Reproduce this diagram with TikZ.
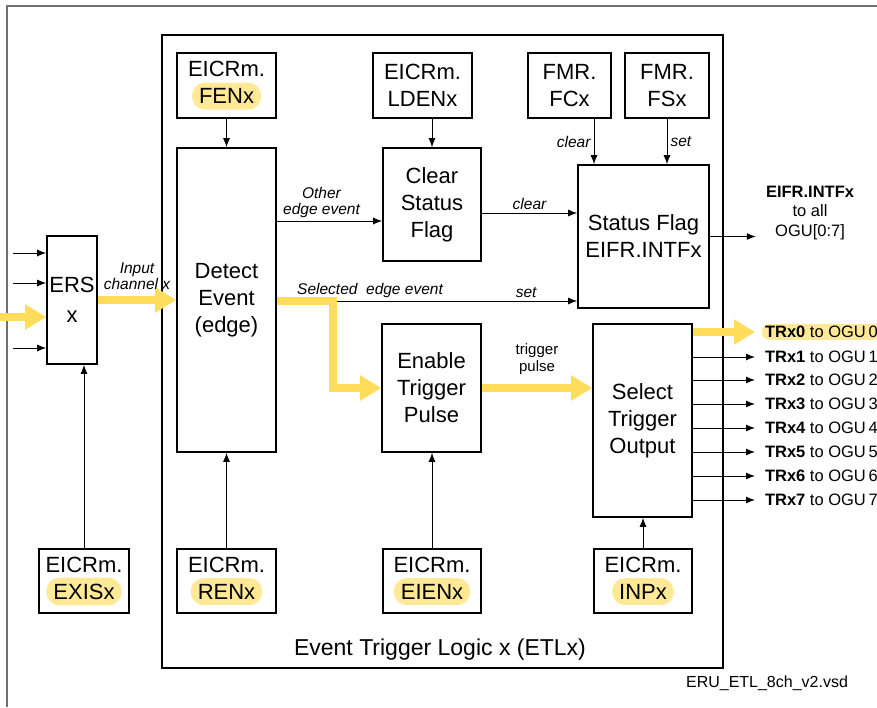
\documentclass[tikz,border=0pt]{standalone}
\usepackage{fontspec}
\setmainfont{Liberation Sans}
\usepackage{xcolor}
\usetikzlibrary{positioning,arrows.meta}
\definecolor{ybus}{RGB}{255,221,90}
\definecolor{yhl}{RGB}{255,232,150}
\definecolor{frm}{RGB}{112,112,112}
\newcommand{\hl}[1]{\tikz[baseline]\node[anchor=base,draw=none,fill=yhl,minimum width=0pt,minimum height=0pt,rounded corners=13pt,inner xsep=7pt,inner ysep=6pt]{#1};}

\begin{document}
\begin{tikzpicture}[x=1pt,y=-1pt,%
  font=\fontsize{22}{27}\selectfont,%
  blk/.style={draw,line width=1.6pt,align=center,inner sep=0pt},%
  arr/.style={-{Latex[length=9pt,width=7pt]},line width=1pt},%
  yarr/.style={draw=ybus,line width=8pt,-{Triangle[length=21pt,width=24pt]}},%
  lbl/.style={font=\fontsize{15.5}{16}\selectfont\itshape,inner sep=1pt},%
  trout/.style={font=\fontsize{16.5}{19.5}\selectfont,anchor=west,inner xsep=3pt,inner ysep=2pt,outer sep=7pt}%
  ]
  \useasboundingbox (0,0) rectangle (877,707);
  \draw[frm,line width=2pt] (7,707) -- (7,6) -- (877,6);
%
  \node (etl) [draw,line width=1.6pt,minimum width=561,minimum height=633] at (442.5,351.5) {};
  \node (etltxt) [font=\fontsize{23}{27}\selectfont] at (440,650) {Event Trigger Logic x (ETLx)};
  \node (vsd) [font=\fontsize{16}{18}\selectfont] at (767,683) {ERU\_ETL\_8ch\_v2.vsd};
%
  \node (fen)  [blk,minimum width=99,minimum height=65] at (226.5,85.5) {EICRm.\\\hl{FENx}};
  \node (lden) [blk,minimum width=99,minimum height=65] at (422.5,85.5) {EICRm.\\LDENx};
  \node (fc)   [blk,minimum width=83,minimum height=65] at (569.5,85.5) {FMR.\\FCx};
  \node (fs)   [blk,minimum width=84,minimum height=65] at (667,85.5) {FMR.\\FSx};
%
  \node (ers)    [blk,minimum width=50,minimum height=128] at (72,300) {ERS\\[3pt]x};
  \node (detect) [blk,minimum width=99,minimum height=304] at (226.5,300) {Detect\\Event\\(edge)};
  \node (clr)    [blk,minimum width=98,minimum height=113] at (432,204.5) {Clear\\Status\\Flag};
  \node (sflag)  [blk,minimum width=131,minimum height=143] at (643.5,236.5) {Status Flag\\EIFR.INTFx};
  \node (etp)    [blk,minimum width=99,minimum height=128] at (431.5,388) {Enable\\Trigger\\Pulse};
  \node (sto)    [blk,minimum width=99,minimum height=193] at (642.5,420.5) {Select\\Trigger\\Output};
%
  \node (exis) [blk,minimum width=90,minimum height=64] at (84,581) {EICRm.\\\hl{EXISx}};
  \node (ren)  [blk,minimum width=99,minimum height=64] at (226.5,581) {EICRm.\\\hl{RENx}};
  \node (eien) [blk,minimum width=98,minimum height=64] at (432,581) {EICRm.\\\hl{EIENx}};
  \node (inp)  [blk,minimum width=98,minimum height=64] at (643,581) {EICRm.\\\hl{INPx}};
%
  \node (eifr) [font=\fontsize{16.5}{19.5}\selectfont,align=center,inner sep=10pt] at (810,213) {\textbf{EIFR.INTFx}\\to all\\OGU[0:7]};
%
  \coordinate (oth) at (0,221);
  \coordinate (cll) at (0,213);
  \coordinate (sel) at (0,301);
  \coordinate (bend) at (333,340);
  \coordinate (iny) at (0,317);
%
  % inputs of ERS
  \foreach \y [count=\k] in {253,283,348} {
    \coordinate (in\k) at (13,\y);
    \draw[arr] (in\k) -- (in\k -| ers.west);
  }
  \draw[yarr] (iny) -- (iny -| ers.west);
  \draw[yarr] (ers.east) -- (detect.west)
    node[lbl,midway,above=5pt,align=center] {Input\\channel x};
%
  \draw[arr] (fen) -- (detect);
  \draw[arr] (lden.south -| clr.north) -- (clr.north);
  \draw[arr] ([xshift=24.5pt]fc.south) -- ([xshift=24.5pt]fc.south |- sflag.north)
    node[lbl,midway,left=2pt] {clear};
  \draw[arr] (fs.south) -- (fs.south |- sflag.north)
    node[lbl,midway,right=2pt] {set};
%
  \draw[arr] (detect.east |- oth) -- (clr.west |- oth)
    node[lbl,midway,above=2pt,align=center,xshift=-8pt] {Other\\edge event};
  \draw[arr] (clr.east |- cll) -- (sflag.west |- cll)
    node[lbl,midway,above=2pt] {clear};
  \draw[arr] (detect.east |- sel) -- (sflag.west |- sel)
    node[lbl,pos=0.063,above=2pt,anchor=south west] {Selected\ \ edge event}
    node[lbl,pos=0.83,above=2pt] {set};
  \draw[arr] (sflag.east) -- (sflag.east -| eifr.west);
%
  \draw[arr] (exis.north) -- (exis.north |- ers.south);
  \draw[arr] (ren) -- (detect);
  \draw[arr] (eien.north) -- (eien.north |- etp.south);
  \draw[arr] (inp.north) -- (inp.north |- sto.south);
%
  \draw[yarr] (detect.east |- sel) -| (bend) |- (etp.west);
  \draw[yarr] (etp.east) -- (sto.west |- etp.east)
    node[midway,above=6pt,align=center,font=\fontsize{15}{17}\selectfont] {trigger\\pulse};
%
  % trigger outputs
  \node (tr0) [trout,fill=yhl,rounded corners=7pt] at (755,332) {\textbf{TRx0} to OGU\,0};
  \draw[yarr] (sto.east |- tr0.west) -- (tr0.west);
  \foreach \i/\y in {1/357,2/380,3/404,4/428,5/452,6/476,7/500} {
    \node (tr\i) [trout] at (755,\y) {\textbf{TRx\i} to OGU\,\i};
    \draw[arr] (sto.east |- tr\i.west) -- (tr\i.west);
  }
%
\end{tikzpicture}
\end{document}
